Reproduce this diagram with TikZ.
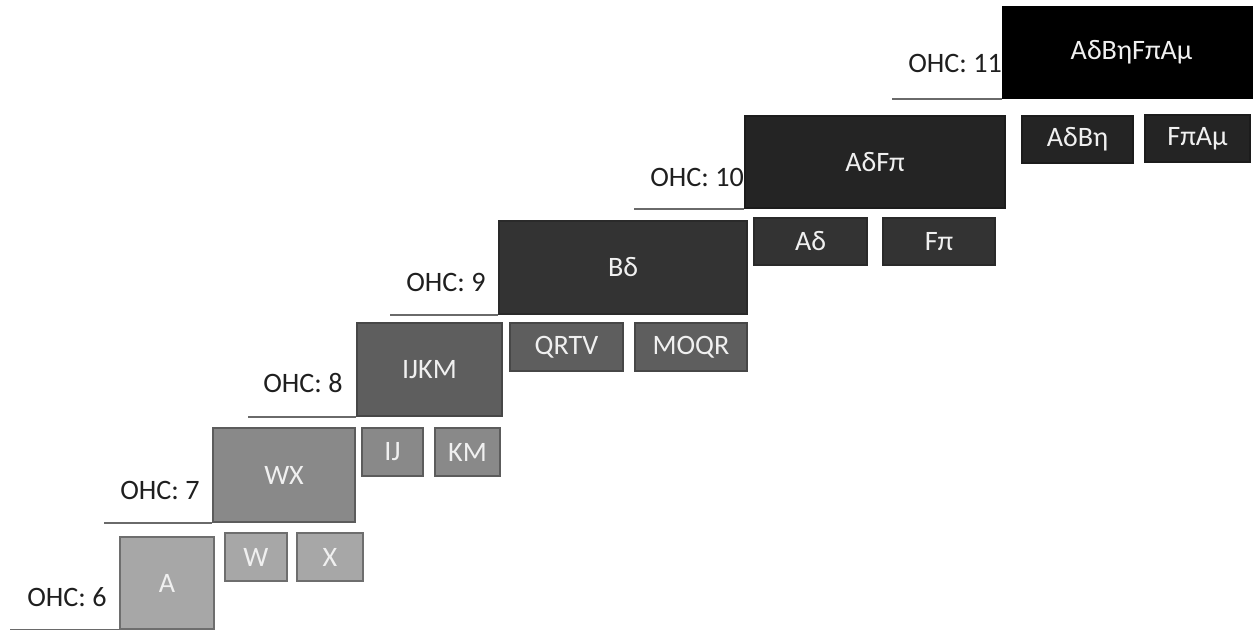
\documentclass[tikz,border=0pt]{standalone}
\usepackage{fontspec}
\setmainfont{Carlito}
\usetikzlibrary{positioning}
\definecolor{lvl6}{HTML}{A7A7A7}
\definecolor{edge6}{HTML}{6E6E6E}
\definecolor{lvl7}{HTML}{898989}
\definecolor{edge7}{HTML}{5C5C5C}
\definecolor{lvl8}{HTML}{5E5E5E}
\definecolor{edge8}{HTML}{474747}
\definecolor{lvl9}{HTML}{333333}
\definecolor{edge9}{HTML}{2A2A2A}
\definecolor{lvl10}{HTML}{242424}
\definecolor{edge10}{HTML}{1C1C1C}
\definecolor{lvl11}{HTML}{000000}
\definecolor{edge11}{HTML}{000000}
\definecolor{shelfgray}{HTML}{6A6A6A}
\tikzset{
	tone/.style={fill=lvl#1, draw=edge#1}
}
\tikzset{
	groupbox/.style={rectangle, line width=1.1pt, inner sep=0pt,
			text=white!94!black, font=\fontsize{16}{19}\selectfont}
}
\tikzset{
	ohctext/.style={anchor=west, inner sep=0pt, text=black!88,
			font=\fontsize{16}{19}\selectfont}
}
\tikzset{
	shelf/.style={draw=shelfgray, line width=1.2pt}
}

\begin{document}
\begin{tikzpicture}[x=0.02cm, y=-0.02cm]
	\useasboundingbox (0,0) rectangle (1253,629);

	\begin{scope}
		\coordinate (s6) at (10,629);
		\coordinate (s7) at (104,522);
		\coordinate (s8) at (248,416);
		\coordinate (s9) at (390,315);
		\coordinate (s10) at (634,208);
		\coordinate (s11) at (892,98);

		\node[ohctext] (l6) at (27,597) {OHC: 6};
		\node[ohctext] (l7) at (120,490) {OHC: 7};
		\node[ohctext] (l8) at (263,383) {OHC: 8};
		\node[ohctext] (l9) at (406,282) {OHC: 9};
		\node[ohctext] (l10) at (650,177) {OHC: 10};
		\node[ohctext] (l11) at (908,63) {OHC: 11};
	\end{scope}

	\begin{scope}
		\node[groupbox, tone=6, minimum width=1.88cm, minimum height=1.84cm] (a) at (167,583) {A};
		\node[groupbox, tone=7, minimum width=2.84cm, minimum height=1.88cm] (wx) at (284,475) {WX};
		\node[groupbox, tone=8, minimum width=2.90cm, minimum height=1.86cm] (ijkm) at (429.5,369.5) {IJKM};
		\node[groupbox, tone=9, minimum width=4.96cm, minimum height=1.86cm] (bd) at (623,267.5) {Bδ};
		\node[groupbox, tone=10, minimum width=5.20cm, minimum height=1.84cm] (adfp) at (875,162) {AδFπ};
		\node[groupbox, tone=11, minimum width=5.14cm, minimum height=1.82cm] (adbhfpam) at (1131.5,52.5) {AδBηFπAμ};

		\draw[shelf] (s6 |- a.south west) -- (a.south west);
		\draw[shelf] (s7 |- wx.south west) -- (wx.south west);
		\draw[shelf] (s8 |- ijkm.south west) -- (ijkm.south west);
		\draw[shelf] (s9 |- bd.south west) -- (bd.south west);
		\draw[shelf] (s10 |- adfp.south west) -- (adfp.south west);
		\draw[shelf] (s11 |- adbhfpam.south west) -- (adbhfpam.south west);
	\end{scope}

	\begin{scope}
		\node[groupbox, tone=6, minimum width=1.24cm, minimum height=0.96cm] (w) at (256,557) {W};
		\node[groupbox, tone=6, minimum width=1.32cm, minimum height=0.96cm] (x) at (330,557) {X};

		\node[groupbox, tone=7, minimum width=1.22cm, minimum height=0.96cm] (ij) at (392.5,452) {IJ};
		\node[groupbox, tone=7, minimum width=1.30cm, minimum height=0.96cm] (km) at (467.5,452) {KM};

		\node[groupbox, tone=8, minimum width=2.26cm, minimum height=0.96cm] (qrtv) at (566.5,347) {QRTV};
		\node[groupbox, tone=8, minimum width=2.24cm, minimum height=0.96cm] (moqr) at (691,347) {MOQR};

		\node[groupbox, tone=9, minimum width=2.26cm, minimum height=0.94cm] (ad) at (810.5,241.5) {Aδ};
		\node[groupbox, tone=9, minimum width=2.24cm, minimum height=0.94cm] (fp) at (939,241.5) {Fπ};

		\node[groupbox, tone=10, minimum width=2.22cm, minimum height=0.94cm] (adbh) at (1077.5,139.5) {AδBη};
		\node[groupbox, tone=10, minimum width=2.10cm, minimum height=0.94cm] (fpam) at (1197.5,138.5) {FπAμ};
	\end{scope}

\end{tikzpicture}
\end{document}
